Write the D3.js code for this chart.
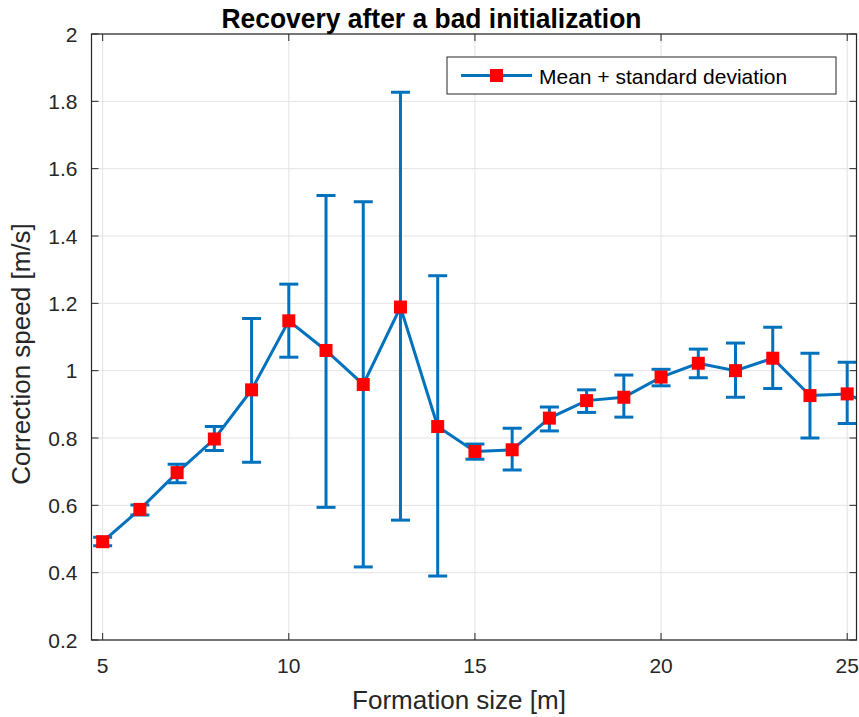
<!DOCTYPE html>
<html>
<head>
<meta charset="utf-8">
<script src="https://cdn.jsdelivr.net/npm/d3@7"></script>
<style>
  body { margin: 0; background: #fff; }
  text { font-family: "Liberation Sans", Arial, sans-serif; }
</style>
</head>
<body>
<svg id="chart" width="859" height="717"></svg>
<script>
// formation size [m]
const sizes = [5, 6, 7, 8, 9, 10, 11, 12, 13, 14, 15, 16, 17, 18, 19, 20, 21, 22, 23, 24, 25, 26];
// mean correction speed [m/s]
const means = [0.492, 0.588, 0.697, 0.797, 0.943, 1.148, 1.060, 0.959, 1.189, 0.834, 0.760,
               0.765, 0.859, 0.911, 0.921, 0.981, 1.022, 1.000, 1.037, 0.926, 0.931, 0.88];
// upper / lower ends of the error bars
const uppers = [0.505, 0.601, 0.722, 0.834, 1.155, 1.257, 1.520, 1.502, 1.827, 1.282, 0.782,
                0.829, 0.892, 0.943, 0.987, 1.004, 1.064, 1.082, 1.129, 1.052, 1.025, 0.95];
const lowers = [0.480, 0.571, 0.667, 0.763, 0.728, 1.040, 0.594, 0.417, 0.556, 0.390, 0.737,
                0.705, 0.821, 0.876, 0.862, 0.955, 0.979, 0.921, 0.947, 0.800, 0.843, 0.81];
const xTicks = [5, 10, 15, 20, 25];
const yTicks = [0.2, 0.4, 0.6, 0.8, 1, 1.2, 1.4, 1.6, 1.8, 2];

const data = sizes.map((s, i) => ({ x: s, m: means[i], hi: uppers[i], lo: lowers[i] }));

const svg = d3.select("#chart");
const pL = 91.5, pR = 856.5, pT = 34, pB = 640;
const blue = "#0072BD", axisCol = "#262626";

const x = d3.scaleLinear().domain([4.7, 25.25]).range([pL, pR]);
const y = d3.scaleLinear().domain([0.2, 2]).range([pB, pT]);

// grid
const grid = svg.append("g");
grid.selectAll("line.gx").data(xTicks).enter().append("line")
  .attr("x1", d => x(d)).attr("x2", d => x(d)).attr("y1", pT).attr("y2", pB)
  .attr("stroke", "#e3e3e3").attr("stroke-width", 1);
grid.selectAll("line.gy").data(yTicks).enter().append("line")
  .attr("x1", pL).attr("x2", pR).attr("y1", d => y(d)).attr("y2", d => y(d))
  .attr("stroke", "#e3e3e3").attr("stroke-width", 1);

// clip for data
svg.append("clipPath").attr("id", "clip").append("rect")
  .attr("x", pL).attr("y", pT).attr("width", pR - pL).attr("height", pB - pT);
const plot = svg.append("g").attr("clip-path", "url(#clip)");

// error bars
const cap = 9.5;
const eb = plot.selectAll("g.eb").data(data).enter().append("g")
  .attr("stroke", blue).attr("stroke-width", 3);
eb.append("line").attr("x1", d => x(d.x)).attr("x2", d => x(d.x))
  .attr("y1", d => y(d.lo)).attr("y2", d => y(d.hi));
eb.append("line").attr("x1", d => x(d.x) - cap).attr("x2", d => x(d.x) + cap)
  .attr("y1", d => y(d.hi)).attr("y2", d => y(d.hi));
eb.append("line").attr("x1", d => x(d.x) - cap).attr("x2", d => x(d.x) + cap)
  .attr("y1", d => y(d.lo)).attr("y2", d => y(d.lo));

// mean line
plot.append("path").datum(data)
  .attr("d", d3.line().x(d => x(d.x)).y(d => y(d.m)))
  .attr("fill", "none").attr("stroke", blue).attr("stroke-width", 3);

// markers
const ms = 13;
plot.selectAll("rect.mk").data(data).enter().append("rect")
  .attr("x", d => x(d.x) - ms / 2).attr("y", d => y(d.m) - ms / 2)
  .attr("width", ms).attr("height", ms).attr("fill", "#ff0000");

// axes (MATLAB-style box, ticks inside)
const ax = svg.append("g");
const tl = 7;
ax.append("rect").attr("x", pL).attr("y", pT).attr("width", pR - pL).attr("height", pB - pT)
  .attr("fill", "none").attr("stroke", axisCol).attr("stroke-width", 1.2);
xTicks.forEach(t => {
  ax.append("line").attr("x1", x(t)).attr("x2", x(t)).attr("y1", pB).attr("y2", pB - tl).attr("stroke", axisCol);
  ax.append("line").attr("x1", x(t)).attr("x2", x(t)).attr("y1", pT).attr("y2", pT + tl).attr("stroke", axisCol);
  ax.append("text").attr("x", x(t)).attr("y", 673).attr("text-anchor", "middle")
    .attr("font-size", 21).attr("fill", axisCol).text(t);
});
yTicks.forEach(t => {
  ax.append("line").attr("x1", pL).attr("x2", pL + tl).attr("y1", y(t)).attr("y2", y(t)).attr("stroke", axisCol);
  ax.append("line").attr("x1", pR).attr("x2", pR - tl).attr("y1", y(t)).attr("y2", y(t)).attr("stroke", axisCol);
  ax.append("text").attr("x", pL - 14).attr("y", y(t) + 7.5).attr("text-anchor", "end")
    .attr("font-size", 21).attr("fill", axisCol).text(t);
});

// labels
svg.append("text").attr("x", 431.5).attr("y", 28).attr("text-anchor", "middle")
  .attr("font-size", 28).attr("font-weight", "bold").attr("fill", "#000")
  .attr("textLength", 420).attr("lengthAdjust", "spacingAndGlyphs")
  .text("Recovery after a bad initialization");
svg.append("text").attr("x", 459).attr("y", 709).attr("text-anchor", "middle")
  .attr("font-size", 26).attr("fill", axisCol).text("Formation size [m]");
svg.append("text").attr("transform", "translate(30,354) rotate(-90)").attr("text-anchor", "middle")
  .attr("font-size", 26).attr("fill", axisCol).text("Correction speed [m/s]");

// legend
const lg = svg.append("g");
lg.append("rect").attr("x", 447).attr("y", 57).attr("width", 389).attr("height", 37)
  .attr("fill", "#fff").attr("stroke", axisCol).attr("stroke-width", 1);
lg.append("line").attr("x1", 461).attr("x2", 532).attr("y1", 75.5).attr("y2", 75.5)
  .attr("stroke", blue).attr("stroke-width", 3);
lg.append("rect").attr("x", 496.5 - ms / 2).attr("y", 75.5 - ms / 2).attr("width", ms).attr("height", ms)
  .attr("fill", "#ff0000");
lg.append("text").attr("x", 539).attr("y", 84).attr("font-size", 21).attr("fill", "#000")
  .text("Mean + standard deviation");
</script>
</body>
</html>
